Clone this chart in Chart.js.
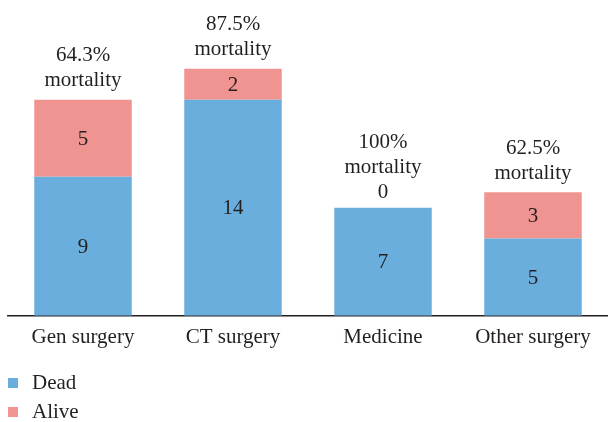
<!DOCTYPE html>
<html>
<head>
<meta charset="utf-8">
<script src="https://cdn.jsdelivr.net/npm/chart.js@4/dist/chart.umd.min.js"></script>
<style>
  html, body { margin: 0; padding: 0; background: #fff; }
  #wrap { width: 608px; height: 422px; }
</style>
</head>
<body>
<div id="wrap"><canvas id="mortalidade"></canvas></div>
<script>
var categorias = ['Gen surgery', 'CT surgery', 'Medicine', 'Other surgery'];
var mortos = [9, 14, 7, 5];
var vivos = [5, 2, 0, 3];

var fonte = '"Liberation Serif", "DejaVu Serif", serif';
var corTexto = '#231f20';

// rotulos dentro das barras + "xx% mortality" acima de cada pilha
var rotulosPlugin = {
  id: 'rotulos',
  afterDatasetsDraw(chart) {
    var ctx = chart.ctx;
    ctx.save();
    ctx.font = '21px ' + fonte;
    ctx.fillStyle = corTexto;
    ctx.textAlign = 'center';
    ctx.textBaseline = 'middle';

    var n = chart.data.labels.length;
    for (var i = 0; i < n; i++) {
      var topo = Infinity;
      var x = 0;
      var zeroAcima = false;
      chart.data.datasets.forEach(function (ds, d) {
        var el = chart.getDatasetMeta(d).data[i];
        var v = ds.data[i];
        x = el.x;
        topo = Math.min(topo, el.y);
        if (v > 0) {
          ctx.fillText(String(v), el.x, (el.y + el.base) / 2 + 1);
        } else {
          zeroAcima = true;
        }
      });
      var y = topo - 19;
      if (zeroAcima) {
        ctx.fillText('0', x, topo - 15);
        y = topo - 40;
      }
      var pct = mortos[i] / (mortos[i] + vivos[i]) * 100;
      var txt = pct.toFixed(1).replace(/\.0$/, '') + '%';
      ctx.fillText('mortality', x, y);
      ctx.fillText(txt, x, y - 25);
    }
    ctx.restore();
  }
};

// legenda vertical no canto inferior esquerdo
var legendaPlugin = {
  id: 'legendaVertical',
  afterDraw(chart) {
    var ctx = chart.ctx;
    ctx.save();
    ctx.font = '21px ' + fonte;
    ctx.textBaseline = 'middle';
    chart.data.datasets.forEach(function (ds, d) {
      var y = 383 + d * 29;
      ctx.fillStyle = ds.backgroundColor;
      ctx.fillRect(8, y - 5, 10, 10);
      ctx.fillStyle = corTexto;
      ctx.fillText(ds.label, 32, y);
    });
    ctx.restore();
  }
};

new Chart(document.getElementById('mortalidade'), {
  type: 'bar',
  data: {
    labels: categorias,
    datasets: [
      { label: 'Dead', data: mortos, backgroundColor: '#6aaede' },
      { label: 'Alive', data: vivos, backgroundColor: '#f09491' }
    ]
  },
  options: {
    responsive: true,
    maintainAspectRatio: false,
    animation: false,
    datasets: { bar: { categoryPercentage: 0.65, barPercentage: 1 } },
    layout: { padding: { left: 8, right: 0, top: 7, bottom: 63 } },
    plugins: { legend: { display: false }, tooltip: { enabled: false } },
    scales: {
      x: {
        stacked: true,
        grid: { display: false, drawTicks: false },
        border: { display: true, color: '#231f20', width: 1.5 },
        ticks: { color: corTexto, font: { family: fonte, size: 21 }, padding: 9 }
      },
      y: {
        stacked: true,
        display: false,
        min: 0,
        max: 20
      }
    }
  },
  plugins: [rotulosPlugin, legendaPlugin]
});
</script>
</body>
</html>
